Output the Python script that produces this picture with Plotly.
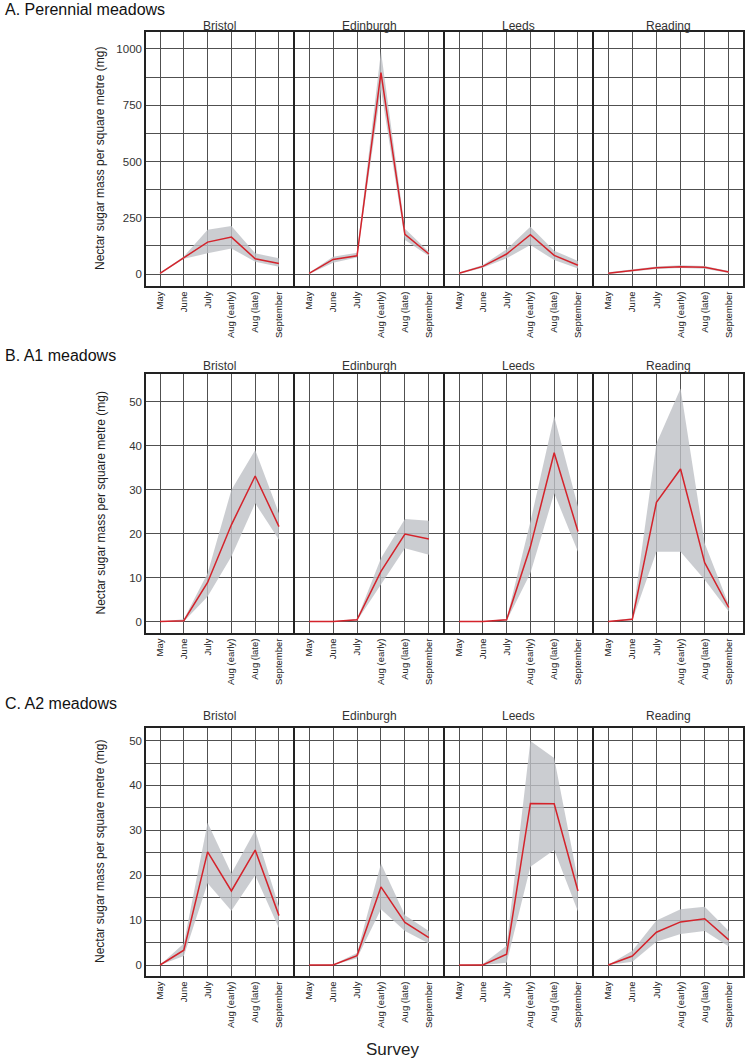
import plotly.graph_objects as go

surveys = ["May", "June", "July", "Aug (early)", "Aug (late)", "September"]
sites = ["Bristol", "Edinburgh", "Leeds", "Reading"]
panel_titles = ["A. Perennial meadows", "B. A1 meadows", "C. A2 meadows"]

# Panel A: Perennial meadows (mean, lower, upper)
perennial_mean = {
    "Bristol":   [3, 73, 142, 164, 68, 47],
    "Edinburgh": [3, 65, 81, 895, 176, 89],
    "Leeds":     [4, 34, 89, 175, 83, 39],
    "Reading":   [4, 15, 28, 33, 30, 9],
}
perennial_low = {
    "Bristol":   [0, 68, 92, 114, 55, 33],
    "Edinburgh": [0, 50, 74, 818, 151, 80],
    "Leeds":     [0, 28, 70, 129, 62, 25],
    "Reading":   [0, 10, 22, 27, 24, 5],
}
perennial_high = {
    "Bristol":   [6, 78, 197, 213, 92, 70],
    "Edinburgh": [6, 77, 95, 988, 201, 99],
    "Leeds":     [7, 40, 110, 210, 104, 58],
    "Reading":   [8, 20, 34, 39, 36, 14],
}

# Panel B: A1 meadows
a1_mean = {
    "Bristol":   [0, 0.2, 8.9, 22.0, 33.1, 21.6],
    "Edinburgh": [0, 0.0, 0.4, 11.4, 19.9, 18.8],
    "Leeds":     [0, 0.0, 0.4, 17.0, 38.4, 20.5],
    "Reading":   [0, 0.5, 27.1, 34.7, 13.4, 3.2],
}
a1_low = {
    "Bristol":   [0, 0.0, 5.7, 14.8, 26.9, 18.6],
    "Edinburgh": [0, 0.0, 0.2, 8.3, 16.7, 15.2],
    "Leeds":     [0, 0.0, 0.2, 11.0, 29.2, 15.9],
    "Reading":   [0, 0.3, 15.9, 15.9, 9.5, 2.3],
}
a1_high = {
    "Bristol":   [0, 0.5, 11.0, 29.9, 39.0, 24.6],
    "Edinburgh": [0, 0.1, 0.6, 14.4, 23.3, 22.9],
    "Leeds":     [0, 0.1, 0.6, 22.7, 46.7, 26.1],
    "Reading":   [0, 0.8, 40.5, 53.0, 17.8, 3.8],
}

# Panel C: A2 meadows
a2_mean = {
    "Bristol":   [0, 3.3, 25.2, 16.5, 25.6, 11.0],
    "Edinburgh": [0, 0.0, 2.1, 17.4, 9.5, 6.1],
    "Leeds":     [0, 0.0, 2.4, 36.0, 35.9, 16.5],
    "Reading":   [0, 2.0, 7.3, 9.6, 10.3, 5.6],
}
a2_low = {
    "Bristol":   [0, 2.0, 18.2, 12.1, 20.0, 8.2],
    "Edinburgh": [0, 0.0, 1.5, 12.4, 7.6, 4.8],
    "Leeds":     [0, 0.0, 0.5, 21.9, 25.6, 11.9],
    "Reading":   [0, 0.7, 5.2, 6.9, 7.6, 4.1],
}
a2_high = {
    "Bristol":   [0, 4.8, 31.7, 20.4, 30.0, 13.0],
    "Edinburgh": [0, 0.1, 2.7, 22.6, 11.1, 7.6],
    "Leeds":     [0, 0.2, 4.3, 49.9, 46.1, 18.9],
    "Reading":   [0, 3.2, 9.9, 12.4, 13.0, 7.6],
}

perennial_ticks = [0, 125, 250, 375, 500, 625, 750, 875, 1000]
perennial_ticktext = ["0", "", "250", "", "500", "", "750", "", "1000"]
a1_ticks = [0, 10, 20, 30, 40, 50]
a1_ticktext = ["0", "10", "20", "30", "40", "50"]
a2_ticks = [0, 5, 10, 15, 20, 25, 30, 35, 40, 45, 50]
a2_ticktext = ["0", "", "10", "", "20", "", "30", "", "40", "", "50"]

rows = [
    dict(mean=perennial_mean, low=perennial_low, high=perennial_high,
         ticks=perennial_ticks, ticktext=perennial_ticktext, yrange=[-53, 1075],
         ypx=(32, 286), title_y=9, sub_y=26),
    dict(mean=a1_mean, low=a1_low, high=a1_high,
         ticks=a1_ticks, ticktext=a1_ticktext, yrange=[-2.6, 56.3],
         ypx=(374, 633), title_y=355, sub_y=366),
    dict(mean=a2_mean, low=a2_low, high=a2_high,
         ticks=a2_ticks, ticktext=a2_ticktext, yrange=[-2.45, 52.8],
         ypx=(728, 976), title_y=703, sub_y=716),
]

W, H = 745, 1063
col_px = [(146, 293), (295, 443), (445, 592), (594, 743)]


def fx(px):
    return px / W


def fy(py):
    return 1 - py / H


FONT = "Liberation Sans, Arial, sans-serif"
RED = "#d4232b"
FILL = "rgba(190,192,197,0.8)"
GRID = "#505050"

fig = go.Figure()
annotations = []
layout_axes = {}

for r, row in enumerate(rows):
    y0 = fy(row["ypx"][1])
    y1 = fy(row["ypx"][0])
    for c, site in enumerate(sites):
        i = r * 4 + c + 1
        xa = "x" if i == 1 else f"x{i}"
        ya = "y" if i == 1 else f"y{i}"
        x0 = fx(col_px[c][0])
        x1 = fx(col_px[c][1])
        fig.add_trace(go.Scatter(x=surveys, y=row["high"][site], mode="lines",
                                 line=dict(width=0, color=FILL), xaxis=xa, yaxis=ya,
                                 showlegend=False, hoverinfo="skip"))
        fig.add_trace(go.Scatter(x=surveys, y=row["low"][site], mode="lines",
                                 line=dict(width=0, color=FILL), fill="tonexty",
                                 fillcolor=FILL, xaxis=xa, yaxis=ya,
                                 showlegend=False, hoverinfo="skip"))
        fig.add_trace(go.Scatter(x=surveys, y=row["mean"][site], mode="lines",
                                 line=dict(width=1.5, color=RED), xaxis=xa, yaxis=ya,
                                 showlegend=False))
        xkey = "xaxis" if i == 1 else f"xaxis{i}"
        ykey = "yaxis" if i == 1 else f"yaxis{i}"
        layout_axes[xkey] = dict(
            domain=[x0, x1], anchor=ya, type="category",
            categoryorder="array", categoryarray=surveys,
            range=[-0.59, 5.59], showgrid=True, gridcolor=GRID, gridwidth=1,
            showline=True, mirror=True, linecolor="#222222", linewidth=1.5,
            ticks="", tickangle=-90, tickfont=dict(size=9.5, color="#222222", family=FONT),
            zeroline=False, fixedrange=True,
        )
        layout_axes[ykey] = dict(
            domain=[y0, y1], anchor=xa, range=row["yrange"],
            tickmode="array", tickvals=row["ticks"], ticktext=row["ticktext"],
            showticklabels=(c == 0), showgrid=True, gridcolor=GRID, gridwidth=1,
            showline=True, mirror=True, linecolor="#222222", linewidth=1.5,
            ticks="", tickfont=dict(size=11.5, color="#333333", family=FONT),
            zeroline=False, fixedrange=True,
        )
        annotations.append(dict(
            text=site, x=(x0 + x1) / 2, y=fy(row["sub_y"]),
            xref="paper", yref="paper", showarrow=False,
            xanchor="center", yanchor="middle",
            font=dict(size=12, color="#333333", family=FONT)))
    annotations.append(dict(
        text=panel_titles[r], x=fx(3), y=fy(row["title_y"]),
        xref="paper", yref="paper", showarrow=False,
        xanchor="left", yanchor="middle",
        font=dict(size=16, color="#111111", family=FONT)))
    annotations.append(dict(
        text="Nectar sugar mass per square metre (mg)", x=fx(100),
        y=(y0 + y1) / 2, xref="paper", yref="paper", showarrow=False,
        textangle=-90, xanchor="center", yanchor="middle",
        font=dict(size=12, color="#222222", family=FONT)))

annotations.append(dict(
    text="Survey", x=fx(393), y=fy(1049), xref="paper", yref="paper",
    showarrow=False, xanchor="center", yanchor="middle",
    font=dict(size=17, color="#222222", family=FONT)))

fig.update_layout(
    width=W, height=H, margin=dict(l=0, r=0, t=0, b=0),
    paper_bgcolor="white", plot_bgcolor="white",
    annotations=annotations, showlegend=False,
    **layout_axes,
)

# remove the default page margin so the figure fills the window exactly
fig.write_html("out.html", config={"displayModeBar": False},
               post_script="document.body.style.margin='0px';")
